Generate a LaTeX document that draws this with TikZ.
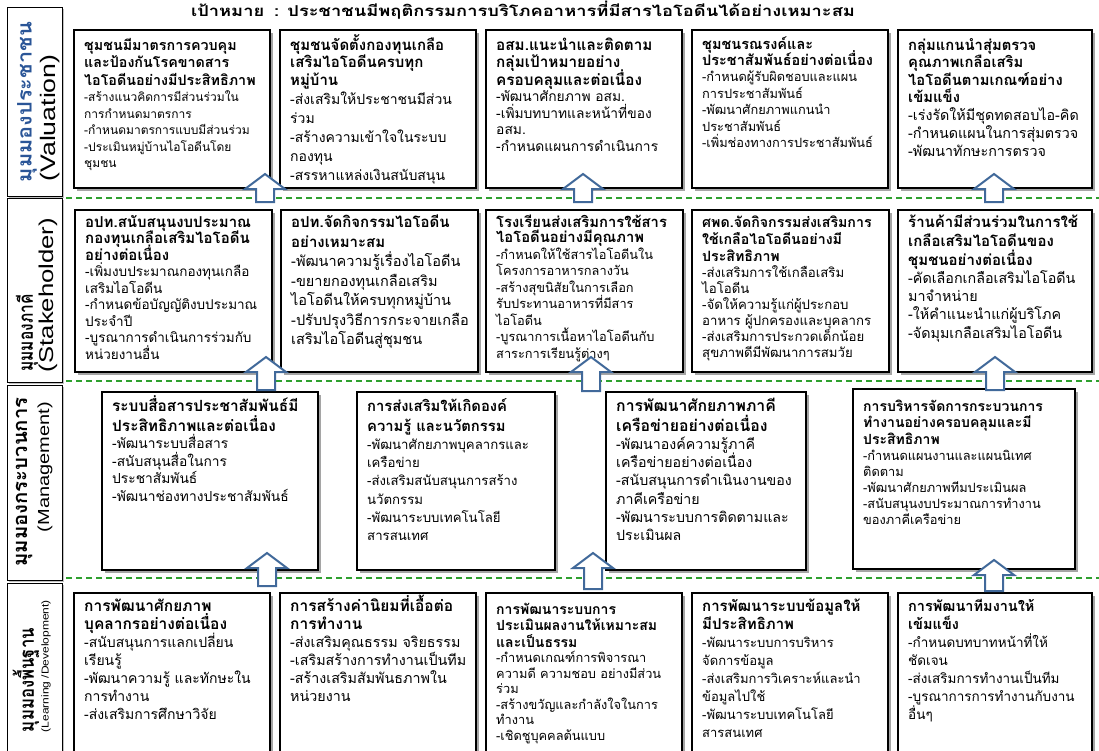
\documentclass[tikz,border=0pt]{standalone}
\usepackage{fontspec}
\usepackage{graphicx}
\setmainfont[Script=Thai]{Loma}
\newfontfamily\latinfont{Liberation Sans}
\usetikzlibrary{shadows}
\definecolor{arrowblue}{HTML}{41699A}
\definecolor{dashgreen}{HTML}{2EA02E}
\definecolor{labelblue}{HTML}{2A5597}

\tikzset{
  cbox/.style={draw=black, line width=1.1pt, fill=white, anchor=north west, inner sep=0pt, outer sep=0pt,
    drop shadow={shadow xshift=2.5pt, shadow yshift=-2.5pt, fill=black!70, opacity=0.5}},
  lbox/.style={draw=black, line width=0.9pt, fill=white, anchor=north west, inner sep=0pt, outer sep=0pt,
    drop shadow={shadow xshift=1.5pt, shadow yshift=-1.5pt, fill=black!60, opacity=0.4}},
  tline/.style={anchor=base west, inner sep=0pt, font=\bfseries\fontsize{\tsz}{\tsk}\selectfont},
  bline/.style={anchor=base west, inner sep=0pt, font=\fontsize{\bsz}{\bsk}\selectfont},
  lthai/.style={rotate=90, inner sep=0pt, font=\bfseries\fontsize{20}{20}\selectfont},
  llat/.style={rotate=90, inner sep=0pt, font=\latinfont},
  sepline/.style={draw=dashgreen, line width=1.2pt, dash pattern=on 6pt off 4pt},
  arrowline/.style={draw=arrowblue, line width=2pt, fill=white, line join=miter},
  pics/uparrow/.style={code={\draw[arrowline] (-9,0) -- (-9,-#1+15) -- (-20,-#1+15) -- (0,-#1) -- (20,-#1+15) -- (9,-#1+15) -- (9,0) -- cycle;}}
}

\def\fb{20}\def\tsz{13.5}\def\tsk{17.5}\def\bsz{12}\def\bsk{16.5}
\newcommand\cell[7]{%
  \node[cbox, minimum width=#4pt, minimum height=#5pt] (#1) at (#2,#3) {};
  \foreach \cl [count=\i] in {#6}{%
    \node[tline] (#1-t\i) at ({#2+10},{#3+\fb+(\i-1)*\tsk}) {\cl};
    \xdef\nt{\i}}%
  \foreach \cl [count=\i] in {#7}{%
    \node[bline] (#1-b\i) at ({#2+10},{#3+\fb+(\nt-1)*\tsk+\i*\bsk}) {\cl};}%
}
\newcommand\fonts[5]{\def\fb{#1}\def\tsz{#2}\def\tsk{#3}\def\bsz{#4}\def\bsk{#5}}

\begin{document}
\begin{tikzpicture}[x=1pt,y=-1pt]
\useasboundingbox (0,0) rectangle (1099,750);
\fill[white] (0,0) rectangle (1099,750);
\clip (0,0) rectangle (1099,750);

% title
\node[anchor=base, inner sep=0pt, font=\bfseries\fontsize{15}{15}\selectfont] (goal) at (523,16)
  {\resizebox{664pt}{\height}{เป้าหมาย\hspace{8pt}: ประชาชนมีพฤติกรรมการบริโภคอาหารที่มีสารไอโอดีนได้อย่างเหมาะสม}};

% left labels
\node[lbox, minimum width=55pt, minimum height=189pt] (L1) at (7,7) {};
\node[lbox, minimum width=55pt, minimum height=184pt] (L2) at (7,198) {};
\node[lbox, minimum width=55pt, minimum height=195pt] (L3) at (7,385) {};
\node[lbox, minimum width=55pt, minimum height=190pt] (L4) at (7,583) {};

\node[lthai, text=labelblue] (L1a) at (27,102) {\resizebox{160pt}{\height}{มุมมองประชาชน}};
\node[llat] (L1b) at (50,118) {\resizebox{127pt}{\height}{\fontsize{21}{21}\selectfont(Valuation)}};
\node[lthai] (L2a) at (27,333) {\resizebox{77pt}{\height}{มุมมองภาคี}};
\node[llat] (L2b) at (48,295) {\resizebox{154pt}{\height}{\fontsize{20}{20}\selectfont(Stakeholder)}};
\node[lthai] (L3a) at (24,482) {\resizebox{169pt}{\height}{มุมมองกระบวนการ}};
\node[llat] (L3b) at (45,467) {\resizebox{130pt}{\height}{\fontsize{16}{16}\selectfont(Management)}};
\node[lthai] (L4a) at (26,680) {\resizebox{104pt}{\height}{มุมมองพื้นฐาน}};
\node[llat] (L4b) at (46,666) {\resizebox{132pt}{\height}{\fontsize{10}{10}\selectfont(Learning /Development)}};

% separators
\coordinate (s1a) at (66,198); \coordinate (s1b) at (1099,198);
\coordinate (s2a) at (66,381); \coordinate (s2b) at (1099,381);
\coordinate (s3a) at (66,578); \coordinate (s3b) at (1099,578);
\draw[sepline] (s1a) -- (s1b);
\draw[sepline] (s2a) -- (s2b);
\draw[sepline] (s3a) -- (s3b);

% ---------- row 1 ----------
\fonts{20}{14.3}{17.5}{12}{16.5}
\cell{b11}{74}{30}{196}{158}{ชุมชนมีมาตรการควบคุม, และป้องกันโรคขาดสาร, ไอโอดีนอย่างมีประสิทธิภาพ}{-สร้างแนวคิดการมีส่วนร่วมใน, การกำหนดมาตรการ, -กำหนดมาตรการแบบมีส่วนร่วม, -ประเมินหมู่บ้านไอโอดีนโดย, ชุมชน}
\fonts{20}{15}{17.5}{14}{19}
\cell{b12}{280}{30}{196}{158}{ชุมชนจัดตั้งกองทุนเกลือ, เสริมไอโอดีนครบทุก, หมู่บ้าน}{-ส่งเสริมให้ประชาชนมีส่วน, ร่วม, -สร้างความเข้าใจในระบบ, กองทุน, -สรรหาแหล่งเงินสนับสนุน}
\fonts{20}{15.3}{17.5}{13.8}{16.5}
\cell{b13}{486}{30}{196}{158}{อสม.แนะนำและติดตาม, กลุ่มเป้าหมายอย่าง, ครอบคลุมและต่อเนื่อง}{-พัฒนาศักยภาพ อสม., -เพิ่มบทบาทและหน้าที่ของ, อสม., -กำหนดแผนการดำเนินการ}
\fonts{19}{14.5}{16}{12.8}{16.5}
\cell{b14}{692}{30}{196}{158}{ชุมชนรณรงค์และ, ประชาสัมพันธ์อย่างต่อเนื่อง}{-กำหนดผู้รับผิดชอบและแผน, การประชาสัมพันธ์, -พัฒนาศักยภาพแกนนำ, ประชาสัมพันธ์, -เพิ่มช่องทางการประชาสัมพันธ์}
\fonts{20}{14.8}{17.5}{14.3}{18}
\cell{b15}{898}{30}{194}{158}{กลุ่มแกนนำสุ่มตรวจ, คุณภาพเกลือเสริม, ไอโอดีนตามเกณฑ์อย่าง, เข้มแข็ง}{-เร่งรัดให้มีชุดทดสอบไอ-คิด, -กำหนดแผนในการสุ่มตรวจ, -พัฒนาทักษะการตรวจ}

% ---------- row 2 ----------
\fonts{17}{15}{16.7}{13.5}{16.5}
\cell{b21}{75}{210}{197}{162}{อปท.สนับสนุนงบประมาณ, กองทุนเกลือเสริมไอโอดีน, อย่างต่อเนื่อง}{-เพิ่มงบประมาณกองทุนเกลือ, เสริมไอโอดีน, -กำหนดข้อบัญญัติงบประมาณ, ประจำปี, -บูรณาการดำเนินการร่วมกับ, หน่วยงานอื่น}
\fonts{17}{15}{20}{14.5}{19.5}
\cell{b22}{281}{210}{197}{162}{อปท.จัดกิจกรรมไอโอดีน, อย่างเหมาะสม}{-พัฒนาความรู้เรื่องไอโอดีน, -ขยายกองทุนเกลือเสริม, ไอโอดีนให้ครบทุกหมู่บ้าน, -ปรับปรุงวิธีการกระจายเกลือ, เสริมไอโอดีนสู่ชุมชน}
\fonts{17}{14.8}{15.5}{12.8}{16.5}
\cell{b23}{486}{210}{197}{162}{โรงเรียนส่งเสริมการใช้สาร, ไอโอดีนอย่างมีคุณภาพ}{-กำหนดให้ใช้สารไอโอดีนใน, โครงการอาหารกลางวัน, -สร้างสุขนิสัยในการเลือก, รับประทานอาหารที่มีสาร, ไอโอดีน, -บูรณาการเนื้อหาไอโอดีนกับ, สาระการเรียนรู้ต่างๆ}
\fonts{17}{14.2}{17}{13.2}{16}
\cell{b24}{692}{210}{197}{162}{ศพด.จัดกิจกรรมส่งเสริมการ, ใช้เกลือไอโอดีนอย่างมี, ประสิทธิภาพ}{-ส่งเสริมการใช้เกลือเสริม, ไอโอดีน, -จัดให้ความรู้แก่ผู้ประกอบ, อาหาร ผู้ปกครองและบุคลากร, -ส่งเสริมการประกวดเด็กน้อย, สุขภาพดีมีพัฒนาการสมวัย}
\fonts{17}{15}{19}{14.3}{18.3}
\cell{b25}{898}{210}{194}{162}{ร้านค้ามีส่วนร่วมในการใช้, เกลือเสริมไอโอดีนของ, ชุมชนอย่างต่อเนื่อง}{-คัดเลือกเกลือเสริมไอโอดีน, มาจำหน่าย, -ให้คำแนะนำแก่ผู้บริโภค, -จัดมุมเกลือเสริมไอโอดีน}

% ---------- row 3 ----------
\fonts{19}{15.4}{20}{13.8}{17.5}
\cell{b31}{102}{392}{216}{178}{ระบบสื่อสารประชาสัมพันธ์มี, ประสิทธิภาพและต่อเนื่อง}{-พัฒนาระบบสื่อสาร, -สนับสนุนสื่อในการ, ประชาสัมพันธ์, -พัฒนาช่องทางประชาสัมพันธ์}
\fonts{19}{14.8}{20}{13.2}{18.3}
\cell{b32}{357}{392}{198}{178}{การส่งเสริมให้เกิดองค์, ความรู้ และนวัตกรรม}{-พัฒนาศักยภาพบุคลากรและ, เครือข่าย, -ส่งเสริมสนับสนุนการสร้าง, นวัตกรรม, -พัฒนาระบบเทคโนโลยี, สารสนเทศ}
\fonts{19}{15.8}{20}{14.2}{18.3}
\cell{b33}{606}{392}{200}{178}{การพัฒนาศักยภาพภาคี, เครือข่ายอย่างต่อเนื่อง}{-พัฒนาองค์ความรู้ภาคี, เครือข่ายอย่างต่อเนื่อง, -สนับสนุนการดำเนินงานของ, ภาคีเครือข่าย, -พัฒนาระบบการติดตามและ, ประเมินผล}
\fonts{22}{14}{16.7}{12.8}{16}
\cell{b34}{853}{389}{222}{180}{การบริหารจัดการกระบวนการ, ทำงานอย่างครอบคลุมและมี, ประสิทธิภาพ}{-กำหนดแผนงานและแผนนิเทศ, ติดตาม, -พัฒนาศักยภาพทีมประเมินผล, -สนับสนุนงบประมาณการทำงาน, ของภาคีเครือข่าย}

% ---------- row 4 ----------
\fonts{18}{15.5}{18.3}{14}{18}
\cell{b41}{74}{593}{196}{200}{การพัฒนาศักยภาพ, บุคลากรอย่างต่อเนื่อง}{-สนับสนุนการแลกเปลี่ยน, เรียนรู้, -พัฒนาความรู้ และทักษะใน, การทำงาน, -ส่งเสริมการศึกษาวิจัย}
\fonts{18}{15.5}{18.3}{14.3}{18}
\cell{b42}{280}{593}{196}{200}{การสร้างค่านิยมที่เอื้อต่อ, การทำงาน}{-ส่งเสริมคุณธรรม จริยธรรม, -เสริมสร้างการทำงานเป็นทีม, -สร้างเสริมสัมพันธภาพใน, หน่วยงาน}
\fonts{21}{14}{16.7}{12.8}{15.5}
\cell{b43}{486}{593}{196}{200}{การพัฒนาระบบการ, ประเมินผลงานให้เหมาะสม, และเป็นธรรม}{-กำหนดเกณฑ์การพิจารณา, ความดี ความชอบ อย่างมีส่วน, ร่วม, -สร้างขวัญและกำลังใจในการ, ทำงาน, -เชิดชูบุคคลต้นแบบ}
\fonts{18}{15}{18.3}{13}{18}
\cell{b44}{692}{593}{196}{200}{การพัฒนาระบบข้อมูลให้, มีประสิทธิภาพ}{-พัฒนาระบบการบริหาร, จัดการข้อมูล, -ส่งเสริมการวิเคราะห์และนำ, ข้อมูลไปใช้, -พัฒนาระบบเทคโนโลยี, สารสนเทศ}
\fonts{18}{14.5}{18.3}{13.5}{18}
\cell{b45}{898}{593}{194}{200}{การพัฒนาทีมงานให้, เข้มแข็ง}{-กำหนดบทบาทหน้าที่ให้, ชัดเจน, -ส่งเสริมการทำงานเป็นทีม, -บูรณาการการทำงานกับงาน, อื่นๆ}

% ---------- arrows ----------
\pic (a11) at (265,202) {uparrow=28};
\pic (a12) at (583,202) {uparrow=28};
\pic (a13) at (994,202) {uparrow=28};
\pic (a21) at (266,390) {uparrow=33};
\pic (a22) at (591,391) {uparrow=34};
\pic (a23) at (995,390) {uparrow=33};
\pic (a31) at (267,586) {uparrow=33};
\pic (a32) at (593,589) {uparrow=36};
\pic (a33) at (994,591) {uparrow=31};
\end{tikzpicture}
\end{document}
